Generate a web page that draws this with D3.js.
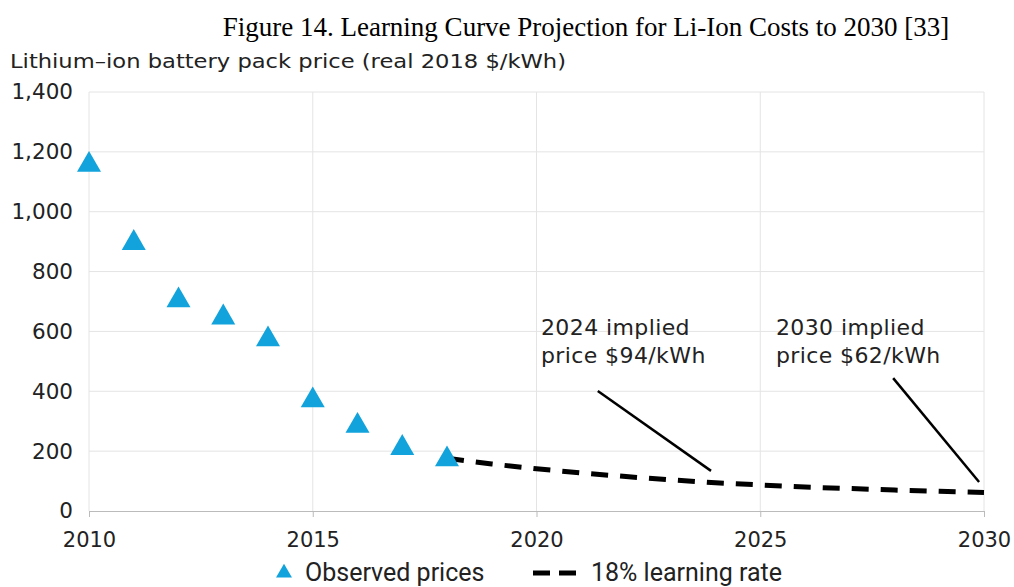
<!DOCTYPE html>
<html>
<head>
<meta charset="utf-8">
<script src="https://cdn.jsdelivr.net/npm/d3@7"></script>
<style>
  body { margin: 0; background: #fff; }
  svg { display: block; }
  .tick text { fill: #222; }
</style>
</head>
<body>
<svg id="chart" width="1014" height="587"></svg>
<script>
// observed pack prices (BNEF survey, real 2018 $/kWh)
const observedYears = [2010, 2011, 2012, 2013, 2014, 2015, 2016, 2017, 2018];
const observedPrices = [1160, 899, 707, 650, 577, 373, 288, 214, 176];

// 18% learning rate projection
const projYears = [2018, 2019, 2020, 2021, 2022, 2023, 2024, 2025, 2026, 2027, 2028, 2029, 2030];
const projPrices = [176, 157, 141, 127, 115, 104, 94, 87, 80, 75, 70, 66, 62];

const xTicks = [2010, 2015, 2020, 2025, 2030];
const yTicks = [0, 200, 400, 600, 800, 1000, 1200, 1400];

// annotation leader lines, in data units
const notes = [
    { lines: ['2024 implied', 'price $94/kWh'], textYear: 2020.1, from: [2021.37, 401], to: [2023.9, 134] },
    { lines: ['2030 implied', 'price $62/kWh'], textYear: 2025.35, from: [2027.97, 444], to: [2029.89, 97] }
];

const blue = '#12a3dc';
const tickFont = '"DejaVu Sans", "Noto Sans", sans-serif';

const svg = d3.select('#chart');
const margin = { left: 89, right: 30, top: 92, bottom: 76 };
const width = 1014, height = 587;

const x = d3.scaleLinear().domain([2010, 2030]).range([margin.left, width - margin.right]);
const y = d3.scaleLinear().domain([0, 1400]).range([height - margin.bottom, margin.top]);

// title
svg.append('text')
    .attr('x', 586).attr('y', 36)
    .attr('text-anchor', 'middle')
    .style('font-family', '"Liberation Serif", "Times New Roman", serif')
    .style('font-size', '27px')
    .text('Figure 14. Learning Curve Projection for Li-Ion Costs to 2030 [33]');

// y axis title, stretched a bit to mimic the wide original face
svg.append('text')
    .attr('x', 10).attr('y', 68)
    .attr('textLength', 556)
    .attr('lengthAdjust', 'spacingAndGlyphs')
    .style('font-family', tickFont)
    .style('font-size', '20px')
    .style('fill', '#222')
    .text('Lithium\u2013ion battery pack price (real 2018 $/kWh)');

// gridlines
svg.append('g')
    .selectAll('line.h')
    .data(yTicks.slice(1))
    .join('line')
    .attr('x1', x(2010)).attr('x2', x(2030))
    .attr('y1', d => y(d)).attr('y2', d => y(d))
    .attr('stroke', '#e4e4e4').attr('stroke-width', 1);

svg.append('g')
    .selectAll('line.v')
    .data(xTicks)
    .join('line')
    .attr('x1', d => x(d)).attr('x2', d => x(d))
    .attr('y1', y(1400)).attr('y2', y(0))
    .attr('stroke', '#e4e4e4').attr('stroke-width', 1);

// x axis
const xAxis = svg.append('g')
    .attr('transform', `translate(0,${y(0)})`)
    .call(d3.axisBottom(x).tickValues(xTicks).tickFormat(d3.format('d')).tickSize(6).tickPadding(15));
xAxis.select('.domain').attr('stroke', '#bbb');
xAxis.selectAll('.tick line').attr('stroke', '#bbb');
xAxis.selectAll('.tick text').style('font-family', tickFont).style('font-size', '21px');

// y axis
const yAxis = svg.append('g')
    .attr('transform', `translate(${margin.left},0)`)
    .call(d3.axisLeft(y).tickValues(yTicks).tickFormat(d3.format(',')).tickSize(0).tickPadding(16));
yAxis.select('.domain').remove();
yAxis.selectAll('.tick text').style('font-family', tickFont).style('font-size', '21.5px');

// projection line
const line = d3.line().x((d, i) => x(projYears[i])).y(d => y(d));
svg.append('path')
    .datum(projPrices)
    .attr('d', line)
    .attr('fill', 'none')
    .attr('stroke', '#000')
    .attr('stroke-width', 5)
    .attr('stroke-dasharray', '17 12');

// observed points
const tri = d3.symbol().type(d3.symbolTriangle).size(250);
svg.append('g')
    .selectAll('path')
    .data(observedPrices)
    .join('path')
    .attr('d', tri)
    .attr('transform', (d, i) => `translate(${x(observedYears[i])},${y(d) + 1})`)
    .attr('fill', blue);

// annotations
notes.forEach(n => {
    const t = svg.append('text')
        .attr('x', x(n.textYear)).attr('y', 335)
        .style('font-family', tickFont)
        .style('font-size', '22px')
        .style('letter-spacing', '0.4px')
        .style('fill', '#222');
    n.lines.forEach((s, i) => t.append('tspan').attr('x', x(n.textYear)).attr('dy', i ? 28 : 0).text(s));
    svg.append('line')
        .attr('x1', x(n.from[0])).attr('y1', y(n.from[1]))
        .attr('x2', x(n.to[0])).attr('y2', y(n.to[1]))
        .attr('stroke', '#000').attr('stroke-width', 2.5);
});

// legend
const legendFont = '"Liberation Sans Narrow", "Roboto", sans-serif';
const lg = svg.append('g').attr('transform', 'translate(0,572)');
lg.append('path').attr('d', d3.symbol().type(d3.symbolTriangle).size(110)).attr('transform', 'translate(284,1)').attr('fill', blue);
lg.append('text').attr('x', 305).attr('y', 9).style('font-family', legendFont).style('font-size', '25px').style('fill', '#222').text('Observed prices');
lg.append('line').attr('x1', 533).attr('x2', 576).attr('y1', 1).attr('y2', 1)
    .attr('stroke', '#000').attr('stroke-width', 5).attr('stroke-dasharray', '17 9');
lg.append('text').attr('x', 591).attr('y', 9).style('font-family', legendFont).style('font-size', '25px').style('fill', '#222').text('18% learning rate');
</script>
</body>
</html>
